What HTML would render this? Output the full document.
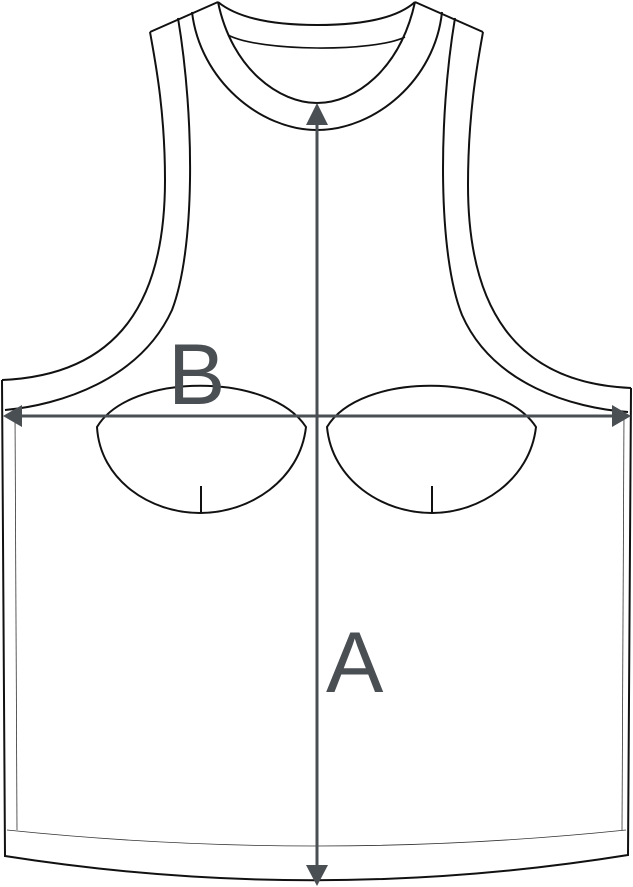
<!DOCTYPE html>
<html><head><meta charset="utf-8"><style>
html,body{margin:0;padding:0;background:#fff;}
svg{display:block;}
</style></head><body>
<svg width="633" height="887" viewBox="0 0 633 887" xmlns="http://www.w3.org/2000/svg">
<g fill="none" stroke="#111" stroke-width="2">
<!-- outer body -->
<path d="M150,32 L218,2 M415,2 L483,32"/>
<path d="M2,380 C120,375 165,300 165,180 C165,110 155,60 150,32"/>
<path d="M631,388 C513,383 468,305 468,185 C468,112 478,60 483,32"/>
<path d="M2,380 L5,856 Q317,905 628,855 L631,388"/>
<!-- inner armhole -->
<path d="M178,18 C195,120 195,250 172,310 C140,380 60,405 5,410"/>
<path d="M455,18 C438,120 438,255 462,315 C493,385 573,408 628,412"/>
<!-- neck -->
<path d="M192,12 C200,80 260,130 317,130 C375,130 435,80 442,12"/>
<path d="M218,2 C232,70 280,103 317,103 C355,103 400,70 415,2"/>
<path d="M218,2 C240,20 280,25 317,25 C355,25 395,20 415,2"/>
<path d="M228,35 C260,52 375,52 405,37" stroke-width="1.6"/>
<!-- cups -->
<path d="M97,427 C130,372 270,372 306,427 C300,480 250,513 200,513 C150,513 100,480 97,427 Z"/>
<path d="M201,486 L201,513"/>
<path d="M327,427 C360,372 500,372 536,427 C530,480 480,513 432,513 C382,513 332,480 327,427 Z"/>
<path d="M432,486 L432,513"/>
</g>
<g fill="none" stroke="#333" stroke-width="0.8">
<path d="M15,412 L17,830"/>
<path d="M624,412 L622,830"/>
<path d="M7,830 Q317,862 626,830"/>
</g>
<g stroke="#4a4f54" stroke-width="3" fill="#4a4f54">
<line x1="18" y1="416" x2="616" y2="416"/>
<line x1="317" y1="122" x2="317" y2="868"/>
<polygon points="3,416 22,405 22,427" stroke="none"/>
<polygon points="631,416 612,405 612,427" stroke="none"/>
<polygon points="317,103 306,125 328,125" stroke="none"/>
<polygon points="317,886 306,865 328,865" stroke="none"/>
</g>
<text x="168" y="404" font-family="Liberation Sans, sans-serif" font-size="86" fill="#4a4f54">B</text>
<text x="326" y="692" font-family="Liberation Sans, sans-serif" font-size="86" fill="#4a4f54">A</text>
</svg>
</body></html>
